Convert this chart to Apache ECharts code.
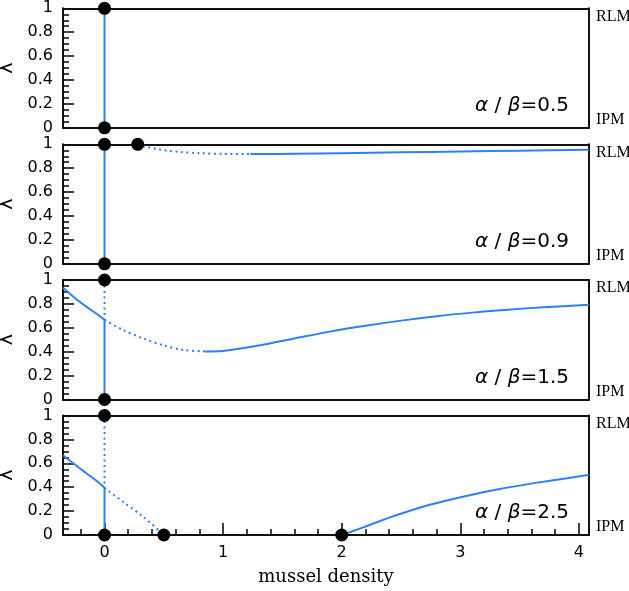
<!DOCTYPE html>
<html>
<head>
<meta charset="utf-8">
<script src="https://cdn.jsdelivr.net/npm/echarts@6/dist/echarts.min.js"></script>
<style>
html,body{margin:0;padding:0;background:#fff;}
#chart{width:629px;height:591px;}
</style>
</head>
<body>
<div id="chart"></div>
<script>
// ---- data ----
const ratioLabels = ['0.5', '0.9', '1.5', '2.5'];
const xMajorTicks = [0, 1, 2, 3, 4];
const xMinorTicks = [-0.2, 0.2, 0.4, 0.6, 0.8, 1.2, 1.4, 1.6, 1.8, 2.2, 2.4, 2.6, 2.8, 3.2, 3.4, 3.6, 3.8];
const rightLabels = ['IPM', 'RLM'];

// panel 1 (alpha/beta = 0.5)
const p1Solid = [[0, 0], [0, 1]];
const p1Dots = [[0, 1], [0, 0]];

// panel 2 (alpha/beta = 0.9)
const p2Vertical = [[0, 0], [0, 1]];
const p2Unstable = [[0.28, 1.0], [0.36, 0.977], [0.45, 0.96], [0.53, 0.946], [0.65, 0.935], [0.8, 0.926], [1.0, 0.92], [1.23, 0.918]];
const p2Stable = [[1.23, 0.918], [1.6, 0.921], [2.0, 0.926], [2.5, 0.933], [3.0, 0.94], [3.5, 0.947], [4.085, 0.955]];
const p2Dots = [[0, 1], [0, 0], [0.28, 1]];

// panel 3 (alpha/beta = 1.5)
const p3Left = [[-0.35, 0.935], [-0.25, 0.85], [-0.15, 0.775], [-0.05, 0.705], [0, 0.666]];
const p3VertSolid = [[0, 0.666], [0, 0]];
const p3VertDotted = [[0, 1], [0, 0.666]];
const p3Unstable = [[0, 0.666], [0.15, 0.585], [0.33, 0.51], [0.5, 0.452], [0.67, 0.414], [0.85, 0.402]];
const p3Stable = [[0.85, 0.402], [1.0, 0.406], [1.3, 0.452], [1.6, 0.51], [1.9, 0.568], [2.2, 0.617], [2.5, 0.66], [2.8, 0.697], [3.1, 0.727], [3.4, 0.752], [3.7, 0.772], [4.085, 0.792]];
const p3Dots = [[0, 1], [0, 0]];

// panel 4 (alpha/beta = 2.5)
const p4Left = [[-0.35, 0.668], [-0.25, 0.59], [-0.15, 0.515], [-0.05, 0.44], [0, 0.395]];
const p4VertSolid = [[0, 0.395], [0, 0]];
const p4VertDotted = [[0, 1], [0, 0.395]];
const p4Unstable = [[0, 0.395], [0.16, 0.275], [0.33, 0.15], [0.5, 0]];
const p4Stable = [[2, 0], [2.17, 0.06], [2.46, 0.165], [2.75, 0.255], [3.04, 0.325], [3.33, 0.385], [3.61, 0.432], [3.9, 0.475], [4.085, 0.505]];
const p4Dots = [[0, 1], [0, 0], [0.5, 0], [2, 0]];

// ---- layout / style ----
const X_MIN = -0.35, X_MAX = 4.085;
const gridTops = [8.3, 144.3, 280, 415.5];
const GRID_H = 119.5;
const BLUE = '#2f7ff5';
const AXIS_COLOR = '#111';
const SANS = 'DejaVu Sans';
const SERIF = 'DejaVu Serif';

const grids = gridTops.map(t => ({left: 63, right: 40, top: t, height: GRID_H, containLabel: false, outerBoundsMode: 'none'}));

const xAxes = [];
const yAxes = [];
gridTops.forEach((t, i) => {
  const last = i === gridTops.length - 1;
  xAxes.push({
    gridIndex: i, type: 'value', min: X_MIN, max: X_MAX, position: 'bottom',
    axisLine: {show: true, onZero: false, lineStyle: {color: AXIS_COLOR, width: 2}},
    splitLine: {show: false},
    axisTick: last ? {show: true, inside: true, length: 12, customValues: xMajorTicks, lineStyle: {color: AXIS_COLOR, width: 1.6}} : {show: false},
    axisLabel: last ? {show: true, customValues: xMajorTicks, margin: 10, color: '#000', fontFamily: SANS, fontSize: 16} : {show: false},
    name: last ? 'mussel density' : '',
    nameLocation: 'middle', nameGap: 33,
    nameTextStyle: {fontFamily: SERIF, fontSize: 18, color: '#000'}
  });
  xAxes.push({
    gridIndex: i, type: 'value', min: X_MIN, max: X_MAX, position: 'top',
    axisLine: {show: true, onZero: false, lineStyle: {color: AXIS_COLOR, width: 2}},
    splitLine: {show: false}, axisTick: {show: false}, axisLabel: {show: false}
  });
  if (last) {
    xAxes.push({
      gridIndex: i, type: 'value', min: X_MIN, max: X_MAX, position: 'bottom',
      axisLine: {show: false, onZero: false}, splitLine: {show: false},
      axisTick: {show: true, inside: true, length: 6, customValues: xMinorTicks, lineStyle: {color: AXIS_COLOR, width: 1.6}},
      axisLabel: {show: false}
    });
  }
  yAxes.push({
    gridIndex: i, type: 'value', min: 0, max: 1, interval: 0.2, position: 'left',
    axisLine: {show: true, onZero: false, lineStyle: {color: AXIS_COLOR, width: 2}},
    splitLine: {show: false}, minorSplitLine: {show: false},
    axisTick: {show: true, inside: true, length: 11, lineStyle: {color: AXIS_COLOR, width: 1.6}},
    minorTick: {show: true, splitNumber: 4, length: 6, lineStyle: {color: AXIS_COLOR, width: 1.6}},
    axisLabel: {show: true, margin: 10, color: '#000', fontFamily: SANS, fontSize: 16},
    name: 'λ', nameLocation: 'middle', nameGap: 41, nameRotate: 90,
    nameTextStyle: {fontFamily: SANS, fontSize: 19, color: '#000'}
  });
  yAxes.push({
    gridIndex: i, type: 'value', min: 0, max: 1, position: 'right',
    axisLine: {show: true, onZero: false, lineStyle: {color: AXIS_COLOR, width: 2}},
    splitLine: {show: false}, axisTick: {show: false},
    axisLabel: {
      show: true, customValues: [0, 1], margin: 7, color: '#000', fontFamily: 'Liberation Serif', fontSize: 16,
      verticalAlignMaxLabel: 'top', verticalAlignMinLabel: 'bottom',
      formatter: v => (v >= 0.5 ? rightLabels[1] : rightLabels[0])
    }
  });
});

const xIdx = [0, 2, 4, 6];
const yIdx = [0, 2, 4, 6];

function solid(i, data, smooth) {
  return {type: 'line', xAxisIndex: xIdx[i], yAxisIndex: yIdx[i], data, showSymbol: false, symbol: 'none',
    smooth: smooth ? 0.3 : false,
    lineStyle: {color: BLUE, width: 2}, clip: false, z: 3, silent: true, animation: false};
}
function dotted(i, data, smooth) {
  return {type: 'line', xAxisIndex: xIdx[i], yAxisIndex: yIdx[i], data, showSymbol: false, symbol: 'none',
    smooth: smooth ? 0.3 : false,
    lineStyle: {color: BLUE, width: 2, type: [2, 3.5]}, clip: false, z: 3, silent: true, animation: false};
}
function dots(i, data) {
  return {type: 'scatter', xAxisIndex: xIdx[i], yAxisIndex: yIdx[i], data, symbol: 'circle', symbolSize: 13,
    itemStyle: {color: '#000', opacity: 1}, clip: false, z: 5, silent: true, animation: false};
}

const series = [
  solid(0, p1Solid), dots(0, p1Dots),
  solid(1, p2Vertical), dotted(1, p2Unstable, true), solid(1, p2Stable, true), dots(1, p2Dots),
  solid(2, p3Left, true), solid(2, p3VertSolid), dotted(2, p3VertDotted), dotted(2, p3Unstable, true), solid(2, p3Stable, true), dots(2, p3Dots),
  solid(3, p4Left, true), solid(3, p4VertSolid), dotted(3, p4VertDotted), dotted(3, p4Unstable, true), solid(3, p4Stable, true), dots(3, p4Dots)
];

const titles = gridTops.map((t, i) => ({
  text: '{g|α} / {g|β}=' + ratioLabels[i],
  right: 60, top: t + GRID_H - 32, padding: 0,
  textStyle: {
    fontFamily: SANS, fontSize: 20, fontWeight: 'normal', color: '#000',
    rich: {g: {fontFamily: SANS, fontSize: 20, fontStyle: 'italic', color: '#000'}}
  }
}));

const chart = echarts.init(document.getElementById('chart'), null, {renderer: 'canvas'});
chart.setOption({
  animation: false,
  backgroundColor: '#fff',
  title: titles,
  grid: grids,
  xAxis: xAxes,
  yAxis: yAxes,
  series
});
</script>
</body>
</html>
